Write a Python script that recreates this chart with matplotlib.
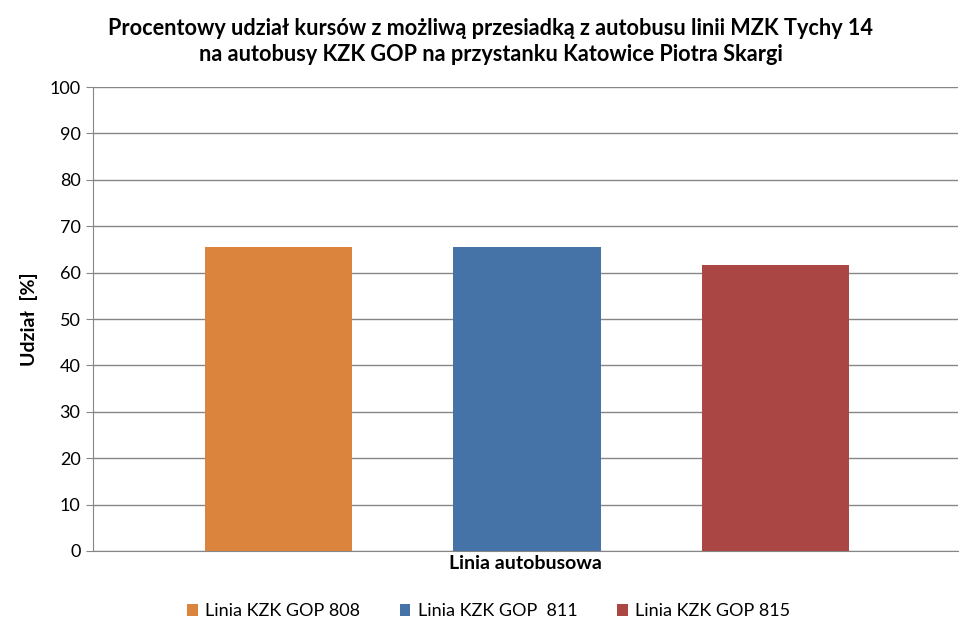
import numpy as np
import matplotlib.pyplot as plt

# dane
kategoria = 'Linia autobusowa'
serie = ['Linia KZK GOP 808', 'Linia KZK GOP  811', 'Linia KZK GOP 815']
udzial = [65.6, 65.6, 61.7]
kolory = ['#DB843D', '#4572A7', '#AA4643']
yticks = list(range(0, 101, 10))

plt.rcParams['font.family'] = ['Lato', 'DejaVu Sans']

fig = plt.figure(figsize=(9.77, 6.38), dpi=100)
ax = fig.add_axes([0.0952, 0.1364, 0.8854, 0.7272])

x = np.arange(len(serie))
for i in range(len(serie)):
    ax.bar(x[i], udzial[i], width=0.593, color=kolory[i], label=serie[i], zorder=3)

ax.set_xlim(-0.748, 2.736)
ax.set_ylim(0, 100)
ax.set_yticks(yticks)
ax.set_xticks([])
ax.yaxis.grid(True, color='#868686', linewidth=1.0, zorder=0)
for s in ['top', 'right']:
    ax.spines[s].set_visible(False)
for s in ['left', 'bottom']:
    ax.spines[s].set_color('#868686')
ax.tick_params(axis='y', length=5, color='#868686', labelsize=13, pad=4)

ax.set_ylabel('Udział  [%]', fontsize=14, fontweight='bold', labelpad=8)
ax.set_xlabel(kategoria, fontsize=14, fontweight='bold', labelpad=3)

fig.text(0.502, 0.935, 'Procentowy udział kursów z możliwą przesiadką z autobusu linii MZK Tychy 14\nna autobusy KZK GOP na przystanku Katowice Piotra Skargi',
         ha='center', va='center', fontsize=15.6, fontweight='bold', linespacing=1.25)

fig.legend(loc='center', bbox_to_anchor=(0.5, 0.042), ncol=3, frameon=False, fontsize=13,
           handlelength=0.6, handleheight=0.6, handletextpad=0.4, columnspacing=2.2)

plt.savefig('out.png', dpi=100)
